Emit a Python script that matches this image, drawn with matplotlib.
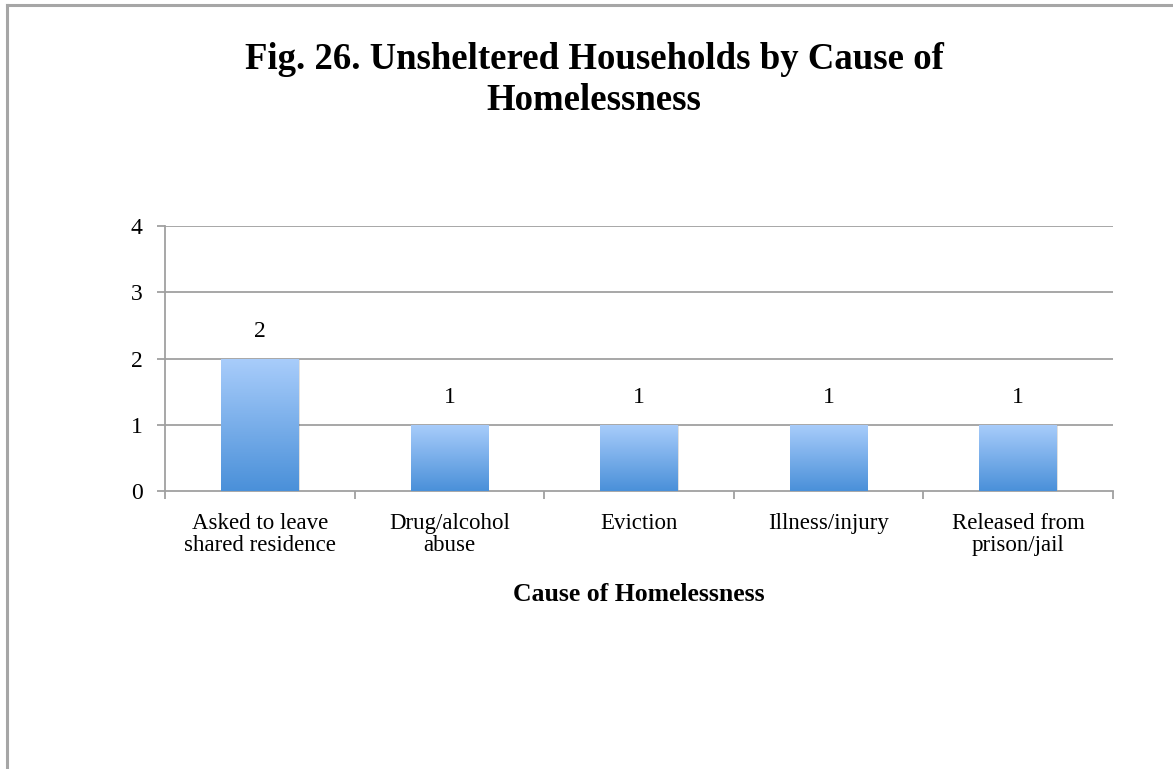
import numpy as np
import matplotlib
matplotlib.use("Agg")
import matplotlib.pyplot as plt
from matplotlib.patches import Rectangle
from matplotlib.lines import Line2D
from matplotlib.colors import LinearSegmentedColormap

categories = ["Asked to leave\nshared residence", "Drug/alcohol\nabuse", "Eviction",
              "Illness/injury", "Released from\nprison/jail"]
values = [2, 1, 1, 1, 1]
yticks = [0, 1, 2, 3, 4]
title = "Fig. 26. Unsheltered Households by Cause of\nHomelessness"
xlabel = "Cause of Homelessness"

plt.rcParams['font.family'] = ['Liberation Serif', 'DejaVu Serif']

W, H = 1173, 769
fig = plt.figure(figsize=(W / 100, H / 100), dpi=100)

# outer frame (left and top edges visible)
fig.add_artist(Line2D([7 / W, 7 / W], [0, 1 - 5 / H], transform=fig.transFigure,
                      color="#a6a6a6", lw=2.2))
fig.add_artist(Line2D([7 / W, 1], [1 - 5 / H, 1 - 5 / H], transform=fig.transFigure,
                      color="#a6a6a6", lw=2.2))

left, right, top, bottom = 165, 1113, 226, 491
ax = fig.add_axes([left / W, 1 - bottom / H, (right - left) / W, (bottom - top) / H])

n = len(categories)
x = np.arange(n)
bw = 0.41

for y in yticks[1:]:
    ax.axhline(y, color="#a0a0a0", lw=1.3, zorder=1)

grad = np.linspace(0, 1, 256).reshape(-1, 1)
cmap = LinearSegmentedColormap.from_list("bar", ["#4a90d9", "#a9cdfb"])

for xi, v in zip(x, values):
    sh = Rectangle((xi - bw / 2 + 0.005, -0.02), bw, v, facecolor="#000000", alpha=0.12,
                   edgecolor="none", zorder=2)
    ax.add_patch(sh)
    r = Rectangle((xi - bw / 2, 0), bw, v, facecolor="none", edgecolor="none", zorder=3)
    ax.add_patch(r)
    im = ax.imshow(grad, extent=(xi - bw / 2, xi + bw / 2, 0, v), origin="lower",
                   cmap=cmap, aspect="auto", zorder=3)
    im.set_clip_path(r)
    ax.text(xi, v + 0.41, str(v), ha="center", va="center", fontsize=17, color="#000000")

ax.set_xlim(-0.5, n - 0.5)
ax.set_ylim(0, 4)

for s in ["top", "right"]:
    ax.spines[s].set_visible(False)
for s in ["left", "bottom"]:
    ax.spines[s].set_color("#a0a0a0")
    ax.spines[s].set_linewidth(1.3)

ax.set_yticks(yticks)
ax.set_yticklabels([str(t) for t in yticks], fontsize=17)
ax.tick_params(axis="y", length=6, width=1.3, color="#a0a0a0", pad=10)

ax.set_xticks(np.arange(n + 1) - 0.5)
ax.set_xticklabels([])
ax.tick_params(axis="x", length=6, width=1.3, color="#a0a0a0")
for xi, c in zip(x, categories):
    ax.text(xi, -0.33, c, ha="center", va="top", fontsize=16.5, linespacing=1.05)

ax.text(0.5, -0.39, xlabel, ha="center", va="center", fontsize=18.5, fontweight="bold",
        transform=ax.transAxes)

fig.text(594 / W, 1 - 80 / H, title, ha="center", va="center", fontsize=26.5,
         fontweight="bold", linespacing=1.2)

fig.savefig("out.png", dpi=100)
